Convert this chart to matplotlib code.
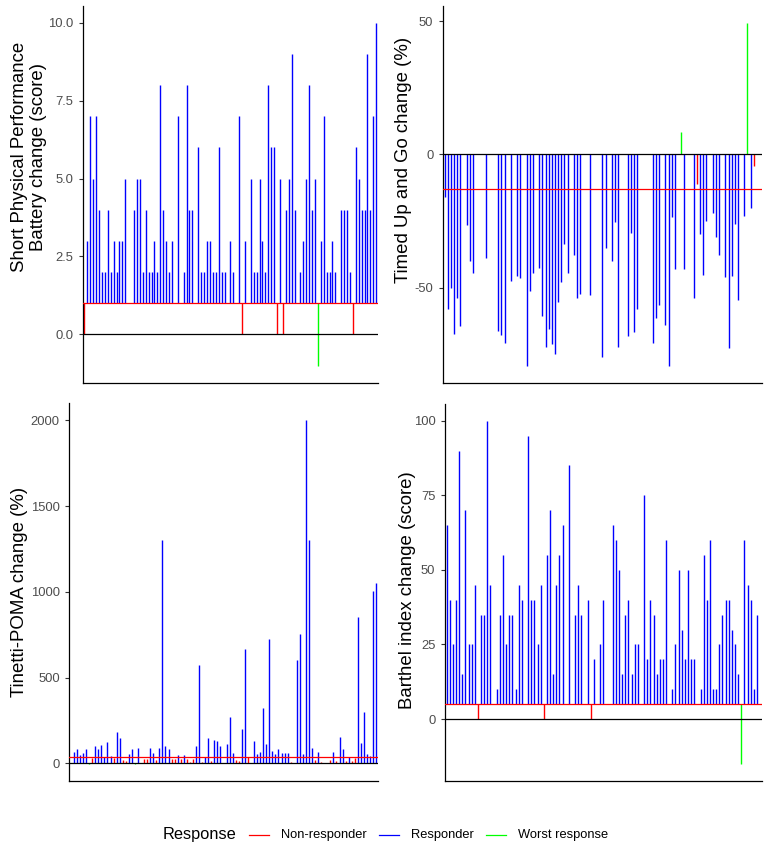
import matplotlib
matplotlib.use('Agg')
import matplotlib.pyplot as plt
from matplotlib.lines import Line2D

plt.rcParams['font.family'] = ['Liberation Sans', 'DejaVu Sans']

W, H, DPI = 775, 849, 100

COL_NON = '#FF0000'
COL_RESP = '#0000FF'
COL_WORST = '#00FF00'
N = None

patients = list(range(101))

sppb_change = [0, 3, 7, 5, 7, 4, 2, 2, 4, 2, 3, 2, 3, 3, 5, N, N, 4, 5, 5,
               2, 4, 2, 2, 3, 2, 8, 4, 3, 2, 3, N, 7, N, 2, 8, 4, 4, N, 6,
               2, 2, 3, 3, 2, 2, 6, 2, 2, N, 3, 2, N, 7, 0, 3, N, 5, 2, 2,
               5, 3, 2, 8, 6, 6, 0, 5, 0, 4, 5, 9, 4, N, 2, 3, 5, 8, 4, 5,
               -1, 3, 7, 2, 2, 3, 2, N, 4, 4, 4, 2, 0, 6, 5, 4, 4, 9, 4, 7, 10]
sppb_mcid = 1.0

tug_change = [-15.9, -57.8, -49.9, -67.1, -53.8, -64.3, N, -26.3, -39.9, -44.6,
              N, N, N, -38.8, N, N, N, -66.3, -67.5, -70.6,
              N, -47.4, N, -45.4, -46.3, N, -79.1, -51.0, -44.6, N,
              -42.4, -60.4, -72.0, -65.5, -71.1, -74.6, -55.3, -47.8, -33.5, -44.6,
              N, -37.8, -53.6, -52.1, N, N, -52.5, N, N, N,
              -75.8, -34.9, N, -39.9, -25.3, -72.1, N, N, -67.9, -29.6,
              -66.5, -57.9, N, N, N, N, -70.5, -61.1, -56.5, N,
              -63.8, -79.1, -23.4, -42.8, N, 8.4, -42.8, N, N, -53.6,
              -11.0, -29.9, -45.0, -24.9, N, -21.9, -30.9, -37.5, N, -45.9,
              -72.6, -45.6, -26.0, -54.4, N, -22.9, 49.4, -19.9, -4.3, N, N]
tug_mcid = -13.0

poma_change = [N, 65, 84, 49, 63, 82, -4, 31, 101, 84,
               105, 40, 124, 43, 30, 185, 146, 19, 14, 53,
               84, -3, 90, N, 25, 25, 88, 60, 19, 88,
               1303, 101, 82, 23, 25, 47, 23, 47, 25, 10,
               27, 101, 574, 8, 40, 146, 16, 136, 128, 101,
               N, 113, 268, 62, 20, 16, 200, 667, 35, N,
               132, 53, 66, 323, 113, 726, 74, 54, 84, 62,
               58, 58, 10, N, 603, 753, 54, 2000, 1303, 91,
               20, 68, 10, N, N, 20, 68, 15, 152, 84,
               15, 40, 12, 30, 852, 119, 300, 54, 43, 1002, 1053]
poma_mcid = 38.5

barthel_change = [65, 40, 25, 40, 90, 15, 70, 25, 25, 45,
                  0, 35, 35, 100, 45, N, 10, 35, 55, 25,
                  35, 35, 10, 45, 40, N, 95, 40, 40, 25,
                  45, 0, 55, 70, 15, 45, 55, 65, N, 85,
                  N, 35, 45, 35, N, 40, 0, 20, N, 25,
                  40, N, N, 65, 60, 50, 15, 35, 40, 15,
                  25, 25, N, 75, 20, 40, 35, 15, 20, 20,
                  60, N, 10, 25, 50, 30, 20, 50, 20, 20,
                  N, 10, 55, 40, 60, 10, 10, 25, 35, 40,
                  40, 30, 25, 15, -15, 60, 45, 40, 10, 35, N]
barthel_mcid = 5.0

response_labels = ['Non-responder', 'Responder', 'Worst response']
response_colors = [COL_NON, COL_RESP, COL_WORST]


def classify(v, mcid, lower_better):
    if lower_better:
        if v > 0:
            return 2
        if v > mcid:
            return 0
        return 1
    if v < 0:
        return 2
    if v < mcid:
        return 0
    return 1


fig = plt.figure(figsize=(W / DPI, H / DPI), dpi=DPI)


def px_axes(left, top, right, bottom):
    return fig.add_axes([left / W, 1 - bottom / H, (right - left) / W, (bottom - top) / H])


def panel(ax, values, mcid, lower_better, from_mcid, ticks, ticklabels):
    xs, y0, y1, cs = [], [], [], []
    for x, v in zip(patients, values):
        if v is None:
            continue
        xs.append(x)
        y0.append(mcid if from_mcid else 0.0)
        y1.append(v)
        cs.append(response_colors[classify(v, mcid, lower_better)])
    ax.vlines(xs, y0, y1, colors=cs, lw=1.0, zorder=2)
    ax.axhline(0, color='black', lw=0.9, zorder=3)
    ax.axhline(mcid, color=COL_NON, lw=0.9, zorder=3)
    vals = [v for v in values if v is not None] + [0, mcid]
    lo, hi = min(vals), max(vals)
    r = hi - lo
    ax.set_ylim(lo - 0.05 * r, hi + 0.05 * r)
    ax.set_xlim(-0.6, 100.6)
    ax.set_xticks([])
    ax.set_yticks(ticks)
    ax.set_yticklabels(ticklabels)
    for s in ['top', 'right']:
        ax.spines[s].set_visible(False)
    for s in ['left', 'bottom']:
        ax.spines[s].set_color('black')
        ax.spines[s].set_linewidth(0.9)
    ax.tick_params(axis='y', length=3.2, width=0.8, color='#333333',
                   labelcolor='#4D4D4D', labelsize=9.4, pad=3.5)


ax1 = px_axes(82.7, 5.5, 378, 382.7)
panel(ax1, sppb_change, sppb_mcid, False, True,
      [0, 2.5, 5, 7.5, 10], ['0.0', '2.5', '5.0', '7.5', '10.0'])
ax2 = px_axes(442.7, 5.5, 762, 382.7)
panel(ax2, tug_change, tug_mcid, True, False, [-50, 0, 50], ['-50', '0', '50'])
ax3 = px_axes(69, 403, 378, 781.3)
panel(ax3, poma_change, poma_mcid, False, False,
      [0, 500, 1000, 1500, 2000], ['0', '500', '1000', '1500', '2000'])
ax4 = px_axes(444.7, 403.5, 762, 781)
panel(ax4, barthel_change, barthel_mcid, False, True,
      [0, 25, 50, 75, 100], ['0', '25', '50', '75', '100'])

lab = dict(rotation=90, ha='center', va='center', fontsize=13.4, color='black')
fig.text(29 / W, 1 - 157 / H, 'Short Physical Performance\nBattery change (score)',
         linespacing=1.1, **lab)
fig.text(403 / W, 1 - 160 / H, 'Timed Up and Go change (%)', **lab)
fig.text(19.5 / W, 1 - 592 / H, 'Tinetti-POMA change (%)', **lab)
fig.text(407.5 / W, 1 - 590 / H, 'Barthel index change (score)', **lab)

# legend
ly = 1 - 835 / H
fig.text(163 / W, ly, 'Response', fontsize=11.8, ha='left', va='center')
key_x = [249, 379, 486]
txt_x = [281, 411.5, 517.5]
for kx, tx, lbl, col in zip(key_x, txt_x, response_labels, response_colors):
    fig.add_artist(Line2D([kx / W, (kx + 20) / W], [ly, ly], color=col, lw=0.9))
    fig.text(tx / W, ly, lbl, fontsize=9.3, color='black', ha='left', va='center')

fig.savefig('out.png', dpi=DPI)
